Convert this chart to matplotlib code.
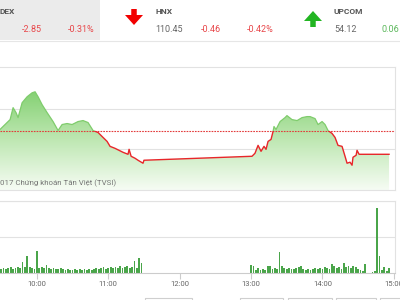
import matplotlib.pyplot as plt
import numpy as np
from matplotlib.colors import LinearSegmentedColormap
from matplotlib.patches import FancyArrow, Rectangle

plt.rcParams['font.family'] = ['Roboto', 'DejaVu Sans']

# header quotes
idx_names = ["DEX", "HNX", "UPCOM"]
idx_values = ["", "110.45", "54.12"]
idx_changes = ["-2.85", "-0.46", "0.06"]
idx_pcts = ["-0.31%", "-0.42%", ""]

# HNX intraday, minutes after 9:00
ref_price = 110.91
morning_t = [29, 37.5, 40, 42.5, 44.2, 47.6, 51.8, 56, 58.5, 61, 64.4, 68.6, 73.6,
             77.8, 81.2, 85.4, 89.6, 94.6, 98.8, 103, 107.2, 111.4, 115.6, 119,
             121.5, 125.7, 132.4, 136.6, 137.5, 139.2, 142.5, 145, 149.2, 150]
morning_p = [110.95, 111.15, 111.39, 111.29, 111.19, 111.49, 111.61, 111.69, 111.71,
             111.61, 111.45, 111.29, 111.11, 110.93, 111.05, 111.07, 111.05, 111.11,
             111.13, 111.09, 110.93, 110.89, 110.79, 110.71, 110.61, 110.57, 110.49,
             110.45, 110.55, 110.41, 110.37, 110.33, 110.27, 110.33]
afternoon_t = [240.8, 243.3, 245.9, 248.4, 250.9, 252.6, 254.3, 256.8, 258.5, 259.3,
               261, 264.4, 268.6, 270.2, 274.4, 278.7, 282.9, 287.1, 289.6, 293.8,
               296.3, 299.7, 302.2, 304.7, 308.1, 310.6, 313.1, 316.5, 319, 320.7,
               323.2, 324.9, 325.7, 328.3, 329.1, 330.8, 356]
afternoon_p = [110.41, 110.47, 110.63, 110.51, 110.61, 110.55, 110.71, 110.75, 110.91,
               111.01, 110.95, 111.11, 111.19, 111.23, 111.15, 111.13, 111.19, 111.21,
               111.21, 111.17, 111.05, 111.11, 111.05, 110.93, 110.87, 110.79, 110.63,
               110.61, 110.41, 110.27, 110.29, 110.23, 110.39, 110.43, 110.53, 110.45,
               110.45]

# volume, 2-minute bins
vol_morning = [4, 5, 4, 5, 6, 4, 5, 6, 5, 11, 6, 17, 6, 5, 4, 22, 5, 6, 5, 8, 5,
               4, 5, 4, 4, 5, 4, 3, 4, 3, 3, 4, 3, 4, 3, 4, 3, 4, 3, 4, 5, 4, 5,
               6, 4, 5, 6, 5, 6, 5, 7, 5, 6, 7, 5, 6, 12, 5, 15, 10, 0]
vol_afternoon = [8, 7, 3, 5, 3, 4, 3, 7, 7, 4, 5, 4, 21, 7, 5, 4, 5, 4, 4, 5, 6, 7,
                 4, 3, 4, 3, 4, 5, 4, 5, 4, 6, 5, 4, 9, 7, 5, 6, 4, 10, 6, 7, 5, 7,
                 6, 4, 3, 2, 9, 0, 0, 1, 2, 65, 17, 3, 6, 2, 5]
vol_morning_t = np.arange(30, 151, 2)
vol_afternoon_t = np.arange(240, 357, 2)

hour_ticks = [60, 120, 180, 240, 300, 360]
hour_labels = ["10:00", "11:00", "12:00", "13:00", "14:00", "15:00"]

t = np.array(morning_t + afternoon_t)
p = np.array(morning_p + afternoon_p)

fig = plt.figure(figsize=(4, 3), dpi=100)
W, H = 400, 300
xlo, xhi = 29, 361
grid_c = "#e2e2e2"

# header overlay in pixel coords
hd = fig.add_axes([0, 0, 1, 1], zorder=-1)
hd.set_xlim(0, W)
hd.set_ylim(H, 0)
hd.axis("off")
hd.add_patch(Rectangle((0, 0), 100, 40, color="#ebebeb", lw=0))
hd.plot([0, W], [41, 41], color="#e6e6e6", lw=0.8)
name_x = [0, 155, 334]
chg_x = [22, 201, 381]
pct_x = [68, 247, 420]
for i in range(3):
    hd.text(name_x[i], 12, idx_names[i], fontsize=6, fontweight="bold",
            color="#555555", va="center")
    hd.text(name_x[i], 30, idx_values[i], fontsize=6.5, color="#666666", va="center")
    c = "#5cb85c" if not idx_changes[i].startswith("-") else "#e8474a"
    hd.text(chg_x[i], 30, idx_changes[i], fontsize=6.5, color=c, va="center")
    hd.text(pct_x[i], 30, idx_pcts[i], fontsize=6.5, color=c, va="center")
hd.add_patch(FancyArrow(134, 9, 0, 6, width=5.5, head_width=18, head_length=10,
                        color="#f20000", lw=0))
hd.add_patch(FancyArrow(313, 27, 0, -6, width=5.5, head_width=18, head_length=10,
                        color="#22b522", lw=0))
for bx0, bx1 in [(145, 192), (240, 283), (288, 332), (336, 376), (380, 410)]:
    hd.add_patch(Rectangle((bx0, 298), bx1 - bx0, 10, fill=False,
                           edgecolor="#cfcfcf", lw=0.8))

# price panel
ax = fig.add_axes([0, 1 - 190 / H, 395 / W, (190 - 67) / H])
ylo, yhi = 109.73, 112.21
ax.set_xlim(xlo, xhi)
ax.set_ylim(ylo, yhi)
ax.set_yticks([110.55, 111.37])
ax.set_xticks(hour_ticks)
ax.tick_params(length=0, labelbottom=False, labelleft=False)
ax.grid(axis="y", color=grid_c, lw=0.8)
ax.set_axisbelow(True)
ax.spines["left"].set_visible(False)
for s in ["top", "right", "bottom"]:
    ax.spines[s].set_color(grid_c)
    ax.spines[s].set_linewidth(0.8)

cmap = LinearSegmentedColormap.from_list("g", ["#f6fcf4", "#bde7b1", "#80cf6e"])
grad = np.linspace(0, 1, 256).reshape(-1, 1)
im = ax.imshow(grad, aspect="auto", cmap=cmap, origin="lower",
               extent=[xlo, xhi, ylo, 111.8], zorder=1)
poly = ax.fill_between(t, p, ylo, color="none", lw=0)
im.set_clip_path(poly.get_paths()[0], transform=ax.transData)

ax.axhline(ref_price, color="#e33b3b", lw=0.8, ls=(0, (1.5, 1)), zorder=2)
up, = ax.plot(t, p, color="#7fcc6c", lw=0.9, zorder=3)
dn, = ax.plot(t, p, color="#e8262a", lw=1.0, zorder=3)
up.set_clip_path(Rectangle((xlo, ref_price), xhi - xlo, yhi - ref_price,
                           transform=ax.transData))
dn.set_clip_path(Rectangle((xlo, ylo), xhi - xlo, ref_price - ylo,
                           transform=ax.transData))
ax.text(0.0, 0.04, "017 Chứng khoán Tân Việt (TVSI)", transform=ax.transAxes,
        fontsize=5.7, color="#777777", zorder=4)

# volume panel
vx = fig.add_axes([0, 1 - 273 / H, 395 / W, (273 - 201) / H])
vx.set_xlim(xlo, xhi)
vx.set_ylim(0, 72)
vx.bar(vol_morning_t, vol_morning, width=1.5, color="#4aa54a", lw=0)
vx.bar(vol_afternoon_t, vol_afternoon, width=1.5, color="#4aa54a", lw=0)
vx.set_yticks([36, 72])
vx.set_xticks(hour_ticks)
vx.set_xticklabels(hour_labels)
vx.tick_params(axis="y", length=0, labelleft=False)
vx.tick_params(axis="x", length=4, color="#cccccc", labelsize=5.5,
               labelcolor="#666666", pad=2)
vx.grid(axis="y", color=grid_c, lw=0.8)
vx.set_axisbelow(True)
vx.spines["left"].set_visible(False)
for s in ["top", "right"]:
    vx.spines[s].set_color(grid_c)
    vx.spines[s].set_linewidth(0.8)
vx.spines["bottom"].set_color("#cccccc")
vx.spines["bottom"].set_linewidth(0.8)

fig.savefig("out.png", dpi=100)
